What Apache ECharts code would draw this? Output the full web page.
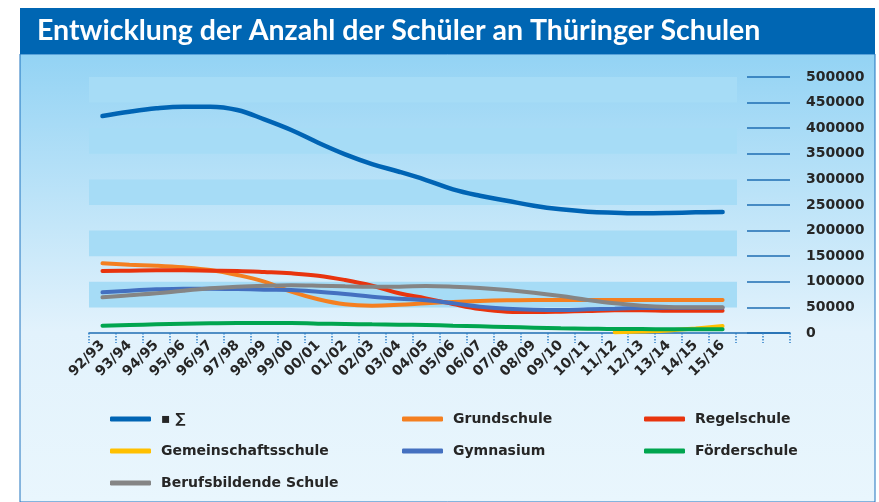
<!DOCTYPE html>
<html>
<head>
<meta charset="utf-8">
<script src="https://cdn.jsdelivr.net/npm/echarts@6/dist/echarts.min.js"></script>
<style>
    html, body { margin: 0; padding: 0; background: #fff; }
    #main { width: 879px; height: 502px; }
</style>
</head>
<body>
<div id="main"></div>
<script>
// Schuljahre, die letzten zwei Kategorien bleiben leer
var years = ['92/93', '93/94', '94/95', '95/96', '96/97', '97/98', '98/99', '99/00', '00/01', '01/02',
    '02/03', '03/04', '04/05', '05/06', '06/07', '07/08', '08/09', '09/10', '10/11', '11/12',
    '12/13', '13/14', '14/15', '15/16', '', ''];

var summe = [423800, 432200, 438800, 442000, 442000, 435500, 417300, 396500, 371700, 349000, 330000, 315000,
    298800, 280600, 268200, 258400, 248600, 241600, 237000, 235000, 233800, 234400, 235700, 236300];
var grundschule = [136100, 133400, 131500, 128300, 123000, 113300, 100200, 80700, 65800, 56000, 53400, 55000,
    58000, 60500, 62500, 63800, 64500, 64500, 64500, 64500, 64500, 64500, 64500, 64500];
var regelschule = [121100, 121700, 122400, 122400, 121700, 121100, 119100, 116500, 112000, 103500, 92400, 77500,
    67700, 56600, 46900, 41700, 41000, 41700, 43000, 44300, 44300, 43600, 43600, 43600];
var gemeinschaftsschule = [null, null, null, null, null, null, null, null, null, null, null, null,
    null, null, null, null, null, null, null, 1500, 3000, 5000, 9000, 13500];
var gymnasium = [79400, 82700, 85300, 86600, 86600, 85900, 84600, 84000, 80700, 76200, 70900, 67000,
    64000, 58000, 51400, 47500, 45500, 44900, 46200, 47500, 48800, 49400, 49400, 49400];
var foerderschule = [14300, 15600, 16900, 18200, 19000, 19500, 19500, 19500, 18200, 17600, 16900, 16300,
    15600, 14300, 13000, 11700, 10400, 9100, 8500, 7800, 7800, 7200, 7200, 7200];
var berufsbildende = [69700, 73600, 77500, 82700, 87200, 90500, 92400, 93100, 92400, 91200, 90500, 90500,
    91800, 90500, 87900, 84000, 78700, 72300, 64500, 58000, 53400, 50800, 50100, 50100];

var FONT = 'DejaVu Sans';

function line(name, data, color, width) {
    return {
        name: name,
        type: 'line',
        data: data,
        smooth: 0.4,
        symbol: 'none',
        connectNulls: false,
        lineStyle: { color: color, width: width || 4, cap: 'round' },
        itemStyle: { color: color }
    };
}

function legendCol(left, names) {
    return {
        orient: 'vertical',
        left: left,
        top: 410,
        padding: 0,
        itemWidth: 41,
        itemHeight: 5,
        itemGap: 14,
        icon: 'roundRect',
        selectedMode: false,
        data: names,
        textStyle: { fontFamily: FONT, fontWeight: 'bold', fontSize: 14, color: '#262626', padding: [0, 0, 0, 5], lineHeight: 18 }
    };
}

var myChart = echarts.init(document.getElementById('main'));

myChart.setOption({
    animation: false,
    graphic: [{
        type: 'rect',
        z: -10,
        shape: { x: 20, y: 54, width: 855, height: 448 },
        style: {
            fill: new echarts.graphic.LinearGradient(0, 0, 0, 1, [
                { offset: 0, color: '#93d3f4' },
                { offset: 0.62, color: '#e2f2fc' },
                { offset: 1, color: '#e9f6fd' }
            ]),
            stroke: '#1e73be',
            lineWidth: 1
        }
    }, {
        type: 'rect',
        z: -10,
        shape: { x: 20, y: 8, width: 855, height: 46 },
        style: { fill: '#0066b3' }
    }],
    title: {
        text: 'Entwicklung der Anzahl der Schüler an Thüringer Schulen',
        left: 32,
        top: 11,
        textStyle: { fontFamily: 'Lato', fontWeight: 'bold', fontSize: 28.5, color: '#ffffff' }
    },
    legend: [
        legendCol(110, ['▪ ∑', 'Gemeinschaftsschule', 'Berufsbildende Schule']),
        legendCol(402, ['Grundschule', 'Gymnasium']),
        legendCol(644, ['Regelschule', 'Förderschule'])
    ],
    grid: [
        { left: 89, right: 89, top: 77, bottom: 169 },
        { left: 89, right: 142, top: 77, bottom: 169, z: -1 }
    ],
    xAxis: [{
        type: 'category',
        gridIndex: 0,
        data: years,
        boundaryGap: true,
        axisLine: { lineStyle: { color: '#1f6db3', width: 1.5 } },
        axisTick: { show: true, length: 10, lineStyle: { color: '#2f80c8', type: 'dotted', width: 1.5 } },
        axisLabel: { interval: 0, rotate: 45, margin: 10, fontFamily: FONT, fontWeight: 'bold', fontSize: 14, color: '#262626' }
    }, {
        type: 'value',
        gridIndex: 1,
        show: false
    }],
    yAxis: [{
        type: 'value',
        gridIndex: 0,
        position: 'right',
        min: 0,
        max: 500000,
        interval: 50000,
        axisLine: { show: false },
        axisTick: { show: true, inside: true, length: 43, lineStyle: { color: '#1f6db3', width: 1.5 } },
        axisLabel: {
            margin: 16, fontFamily: FONT, fontWeight: 'bold', fontSize: 14, color: '#262626',
            formatter: function (v) { return String(v); }
        },
        splitLine: { show: false }
    }, {
        type: 'value',
        gridIndex: 1,
        min: 0,
        max: 500000,
        interval: 50000,
        axisLine: { show: false },
        axisTick: { show: false },
        axisLabel: { show: false },
        splitLine: { show: false },
        splitArea: { show: true, areaStyle: { color: ['rgba(0,0,0,0)', '#a6dcf6'] } }
    }],
    series: [
        line('▪ ∑', summe, '#0064b4', 4.5),
        line('Grundschule', grundschule, '#f47f20'),
        line('Regelschule', regelschule, '#e8340e'),
        line('Gemeinschaftsschule', gemeinschaftsschule, '#ffc000'),
        line('Gymnasium', gymnasium, '#4470c0'),
        line('Berufsbildende Schule', berufsbildende, '#858585'),
        line('Förderschule', foerderschule, '#00a54f')
    ]
});
</script>
</body>
</html>
